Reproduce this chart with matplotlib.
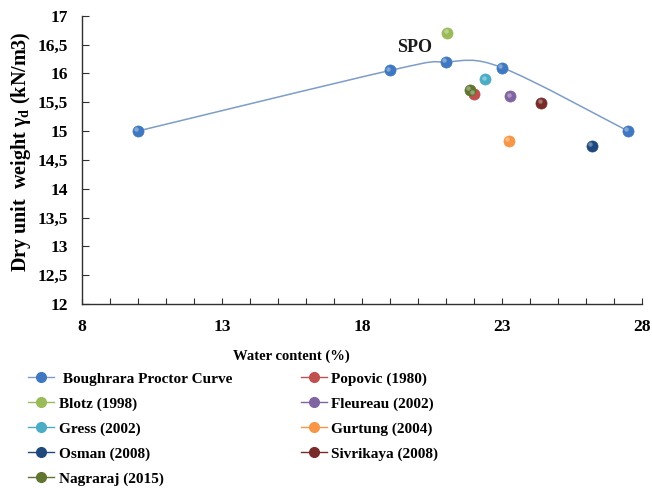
import matplotlib
matplotlib.use("Agg")
import matplotlib.pyplot as plt
from matplotlib.path import Path
from matplotlib.patches import PathPatch
from matplotlib.lines import Line2D
import matplotlib.transforms as mtransforms

plt.rcParams['font.family'] = ['Liberation Serif', 'DejaVu Serif']
plt.rcParams['mathtext.fontset'] = 'custom'
plt.rcParams['mathtext.rm'] = 'Liberation Serif:bold'
plt.rcParams['mathtext.it'] = 'Liberation Serif:bold'
plt.rcParams['mathtext.bf'] = 'Liberation Serif:bold'

# ---- data ----
proctor_w = [10, 19, 21, 23, 27.5]
proctor_g = [15.0, 16.05, 16.2, 16.1, 15.0]

study_names = ["Popovic (1980)", "Blotz (1998)", "Fleureau (2002)", "Gress (2002)",
               "Gurtung (2004)", "Osman (2008)", "Sivrikaya (2008)", "Nagraraj (2015)"]
study_w = [22.0, 21.05, 23.3, 22.4, 23.25, 26.2, 24.4, 21.85]
study_g = [15.65, 16.7, 15.6, 15.9, 14.83, 14.74, 15.49, 15.71]
study_colors = ["#C0504D", "#9BBB59", "#8064A2", "#4BACC6",
                "#F79646", "#1F497D", "#772C2A", "#5F7530"]

proctor_label = " Boughrara Proctor Curve"
proctor_color = "#3F78C0"
curve_color = "#7D9DC8"

xticks = [8, 13, 18, 23, 28]
xtick_labels = ["8", "13", "18", "23", "28"]
yticks = [12, 12.5, 13, 13.5, 14, 14.5, 15, 15.5, 16, 16.5, 17]
ytick_labels = ["12", "12,5", "13", "13,5", "14", "14,5", "15", "15,5", "16", "16,5", "17"]

annot_text = "SPO"
annot_xy = (19.88, 16.45)

# ---- figure ----
fig = plt.figure(figsize=(6.52, 4.88), dpi=100)
ax = fig.add_axes([82/652, 1-304/488, 560/652, (304-15.7)/488])
ax.set_xlim(8, 28)
ax.set_ylim(12, 17)

# smooth (Catmull-Rom -> Bezier) curve through proctor points
pts = list(zip(proctor_w, proctor_g))
ext = [pts[0]] + pts + [pts[-1]]
verts = [pts[0]]
codes = [Path.MOVETO]
for i in range(1, len(ext) - 2):
    p0, p1, p2, p3 = ext[i-1], ext[i], ext[i+1], ext[i+2]
    c1 = (p1[0] + (p2[0]-p0[0])/6, p1[1] + (p2[1]-p0[1])/6)
    c2 = (p2[0] - (p3[0]-p1[0])/6, p2[1] - (p3[1]-p1[1])/6)
    verts += [c1, c2, p2]
    codes += [Path.CURVE4]*3
ax.add_patch(PathPatch(Path(verts, codes), facecolor='none', edgecolor=curve_color,
                       lw=1.1, zorder=2))

hl = ax.transData + mtransforms.ScaledTranslation(-1.6/100, 1.6/100, fig.dpi_scale_trans)

def sphere(x, y, c):
    ax.plot(x, y, marker='o', linestyle='none', ms=8, mfc=c, mec=c, mew=0.5, zorder=3)
    ax.plot(x, y, marker='o', linestyle='none', ms=3.2, mfc='white', mec='none',
            alpha=0.35, zorder=4, transform=hl)

sphere(proctor_w, proctor_g, proctor_color)
for w, g, c in zip(study_w, study_g, study_colors):
    sphere([w], [g], c)

ax.text(annot_xy[0], annot_xy[1], annot_text, fontsize=13, fontweight='bold',
        ha='center', va='center', color='#1a1a1a')

# axes styling
for s in ['top', 'right']:
    ax.spines[s].set_visible(False)
for s in ['left', 'bottom']:
    ax.spines[s].set_color('#303030')
    ax.spines[s].set_linewidth(1.0)
ax.set_xticks(xticks)
ax.set_xticklabels(xtick_labels)
ax.set_xticks(range(8, 29), minor=True)
ax.set_yticks(yticks)
ax.set_yticklabels(ytick_labels)
ax.tick_params(axis='x', which='both', direction='in', length=4, width=0.8, color='#303030',
               pad=11, labelsize=12.5)
ax.tick_params(axis='y', which='both', direction='in', length=5, width=0.8, color='#303030',
               pad=10, labelsize=12.5)
for lab in ax.get_xticklabels() + ax.get_yticklabels():
    lab.set_fontweight('bold')

ax.set_xlabel("Water content (%)", fontsize=10.5, fontweight='bold')
ax.xaxis.set_label_coords((291-82)/560, -(350-304)/288.3)
ax.set_ylabel(r"Dry unit  weight $\gamma_{d}$ (kN/m3)", fontsize=14.5, fontweight='bold')
ax.yaxis.set_label_coords(-(82-33)/560, 0.53)

# legend
def handle(c, lc=None):
    return Line2D([0], [0], color=lc or c, lw=1.0, marker='o', ms=7, mfc=c, mec=c)

handles = [handle(proctor_color, curve_color)]
labels = [proctor_label]
for idx in [1, 3, 5, 7, 0, 2, 4, 6]:
    handles.append(handle(study_colors[idx]))
    labels.append(study_names[idx])

leg = fig.legend(handles, labels, ncol=2, loc='upper left',
                 bbox_to_anchor=(28/652, 1-372/488), frameon=False,
                 prop={'family': 'Liberation Serif', 'weight': 'bold', 'size': 11},
                 handlelength=1.7, handletextpad=0.3, labelspacing=0.73,
                 columnspacing=4.5, borderpad=0, borderaxespad=0)

fig.savefig("out.png", dpi=100)
